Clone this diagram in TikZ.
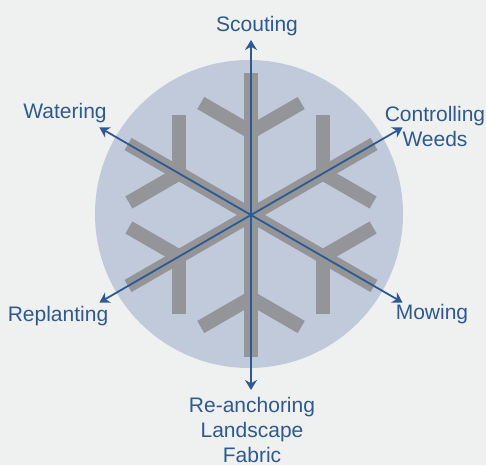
\documentclass[tikz,border=0pt]{standalone}
\usepackage{fontspec}
\setmainfont{Liberation Sans}
\usetikzlibrary{arrows.meta}
\definecolor{bgcol}{HTML}{EFF0F0}
\definecolor{disc}{HTML}{C1CADB}
\definecolor{flake}{HTML}{939598}
\definecolor{arrowblue}{HTML}{2F5A8F}

\begin{document}
\begin{tikzpicture}[x=1pt,y=1pt,
    label text/.style={text=arrowblue, font=\fontsize{21}{25}\selectfont, inner sep=0pt, align=center, anchor=base},
    spoke/.style={draw=arrowblue, line width=1.8pt, -{Stealth[length=10pt,width=12pt]}},
    flake arm/.style={draw=flake, line width=14pt}]
    \fill[bgcol] (0,0) rectangle (486,465);
    \fill[disc] (249,251) circle (154);
    \coordinate (hub) at (251,250);
    \foreach \a in {90,30,-30,-90,-150,150} {
        \draw[flake arm] (hub) -- ++(\a:142);
        \draw[flake arm] (hub) ++(\a:83) -- ++(\a+60:58);
        \draw[flake arm] (hub) ++(\a:83) -- ++(\a-60:58);
    }
    \coordinate (scouting tip)    at ([shift={(90:175)}]hub);
    \coordinate (controlling tip) at ([shift={(30:175)}]hub);
    \coordinate (mowing tip)      at ([shift={(-30:175)}]hub);
    \coordinate (reanchoring tip) at ([shift={(-90:175)}]hub);
    \coordinate (replanting tip)  at ([shift={(-150:175)}]hub);
    \coordinate (watering tip)    at ([shift={(150:175)}]hub);
    \node[label text] (scouting)    at (257,433) {Scouting};
    \node[label text] (controlling) at (435,318) {Controlling\\Weeds};
    \node[label text] (mowing)      at (432,145) {Mowing};
    \node[label text] (reanchoring) at (252,3)   {Re-anchoring\\Landscape\\Fabric};
    \node[label text] (replanting)  at (58,143)  {Replanting};
    \node[label text] (watering)    at (65,346)  {Watering};
    \draw[spoke] (hub) -- (scouting tip);
    \draw[spoke] (hub) -- (controlling tip);
    \draw[spoke] (hub) -- (mowing tip);
    \draw[spoke] (hub) -- (reanchoring tip);
    \draw[spoke] (hub) -- (replanting tip);
    \draw[spoke] (hub) -- (watering tip);
\end{tikzpicture}
\end{document}
